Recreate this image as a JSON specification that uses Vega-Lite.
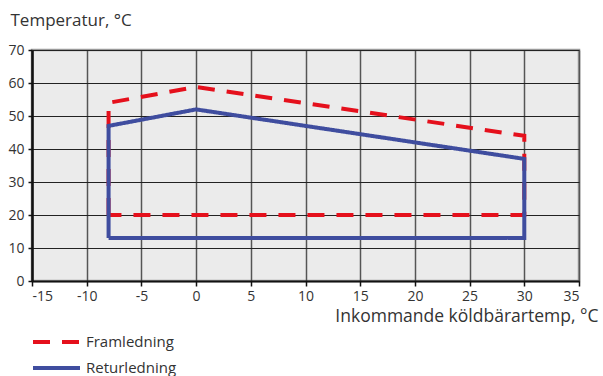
{
  "$schema": "https://vega.github.io/schema/vega-lite/v6.json",
  "autosize": "none",
  "width": 547,
  "height": 231,
  "padding": {"left": 32, "top": 50, "right": 24, "bottom": 95},
  "background": "white",
  "config": {
    "font": "Open Sans",
    "view": {"fill": "#ebebeb", "stroke": "#9a9a9a", "strokeWidth": 2.5}
  },
  "data": {
    "values": [
      {"serie": "Framledning", "ord": 1, "x": -8, "y": 20},
      {"serie": "Framledning", "ord": 2, "x": -8, "y": 54},
      {"serie": "Framledning", "ord": 3, "x": 0, "y": 58.8},
      {"serie": "Framledning", "ord": 4, "x": 30, "y": 44},
      {"serie": "Framledning", "ord": 5, "x": 30, "y": 20},
      {"serie": "Framledning", "ord": 6, "x": -8, "y": 20},
      {"serie": "Returledning", "ord": 1, "x": -8, "y": 13},
      {"serie": "Returledning", "ord": 2, "x": -8, "y": 47},
      {"serie": "Returledning", "ord": 3, "x": 0, "y": 52},
      {"serie": "Returledning", "ord": 4, "x": 30, "y": 37},
      {"serie": "Returledning", "ord": 5, "x": 30, "y": 13},
      {"serie": "Returledning", "ord": 6, "x": -8, "y": 13}
    ]
  },
  "mark": {"type": "line", "strokeWidth": 4, "strokeCap": "butt", "strokeJoin": "miter"},
  "encoding": {
    "x": {
      "field": "x", "type": "quantitative",
      "scale": {"domain": [-15, 35], "nice": false, "zero": false},
      "axis": {
        "values": [-15, -10, -5, 0, 5, 10, 15, 20, 25, 30, 35],
        "labelExpr": "datum.value < 0 ? '-' + abs(datum.value) : '' + datum.value",
        "title": "Inkommande köldbärartemp, °C",
        "titleFont": "Open Sans", "titleFontSize": 17.5, "titleFontWeight": "normal", "titleColor": "#333",
        "titleAnchor": "end", "titleAlign": "right", "titleBaseline": "alphabetic",
        "titleX": 566, "titleY": 40,
        "labelFontSize": 14, "labelColor": "#333", "labelPadding": 3,
        "domainColor": "#111", "domainWidth": 2,
        "tickColor": "#111", "tickSize": 5, "tickWidth": 1.5,
        "gridColor": "#555", "gridWidth": 1.5, "gridOpacity": 1
      }
    },
    "y": {
      "field": "y", "type": "quantitative",
      "scale": {"domain": [0, 70], "nice": false},
      "axis": {
        "values": [0, 10, 20, 30, 40, 50, 60, 70],
        "title": "Temperatur, °C",
        "titleFont": "Open Sans", "titleFontSize": 17, "titleFontWeight": "normal", "titleColor": "#333",
        "titleAngle": 0, "titleAlign": "left", "titleBaseline": "alphabetic",
        "titleX": -22, "titleY": -25,
        "labelFontSize": 14, "labelColor": "#333", "labelPadding": 4,
        "domainColor": "#111", "domainWidth": 2.5,
        "tickColor": "#111", "tickSize": 4, "tickWidth": 1.5,
        "gridColor": "#222", "gridWidth": 1, "gridOpacity": 1
      }
    },
    "order": {"field": "ord", "type": "quantitative"},
    "color": {
      "field": "serie", "type": "nominal",
      "scale": {"domain": ["Framledning", "Returledning"], "range": ["#e5101c", "#3f4d9f"]},
      "legend": {
        "title": null, "orient": "none", "legendX": -1, "legendY": 284.5, "padding": 0,
        "symbolType": "stroke", "symbolSize": 2209, "symbolStrokeWidth": 4, "clipHeight": 15,
        "labelFontSize": 15, "labelColor": "#333", "labelOffset": 4, "rowPadding": 10
      }
    },
    "strokeDash": {
      "field": "serie", "type": "nominal",
      "scale": {"domain": ["Framledning", "Returledning"], "range": [[17, 12], [1, 0]]},
      "legend": {
        "title": null, "orient": "none", "legendX": -1, "legendY": 284.5, "padding": 0,
        "symbolType": "stroke", "symbolSize": 2209, "symbolStrokeWidth": 4, "clipHeight": 15,
        "labelFontSize": 15, "labelColor": "#333", "labelOffset": 4, "rowPadding": 10
      }
    }
  }
}
